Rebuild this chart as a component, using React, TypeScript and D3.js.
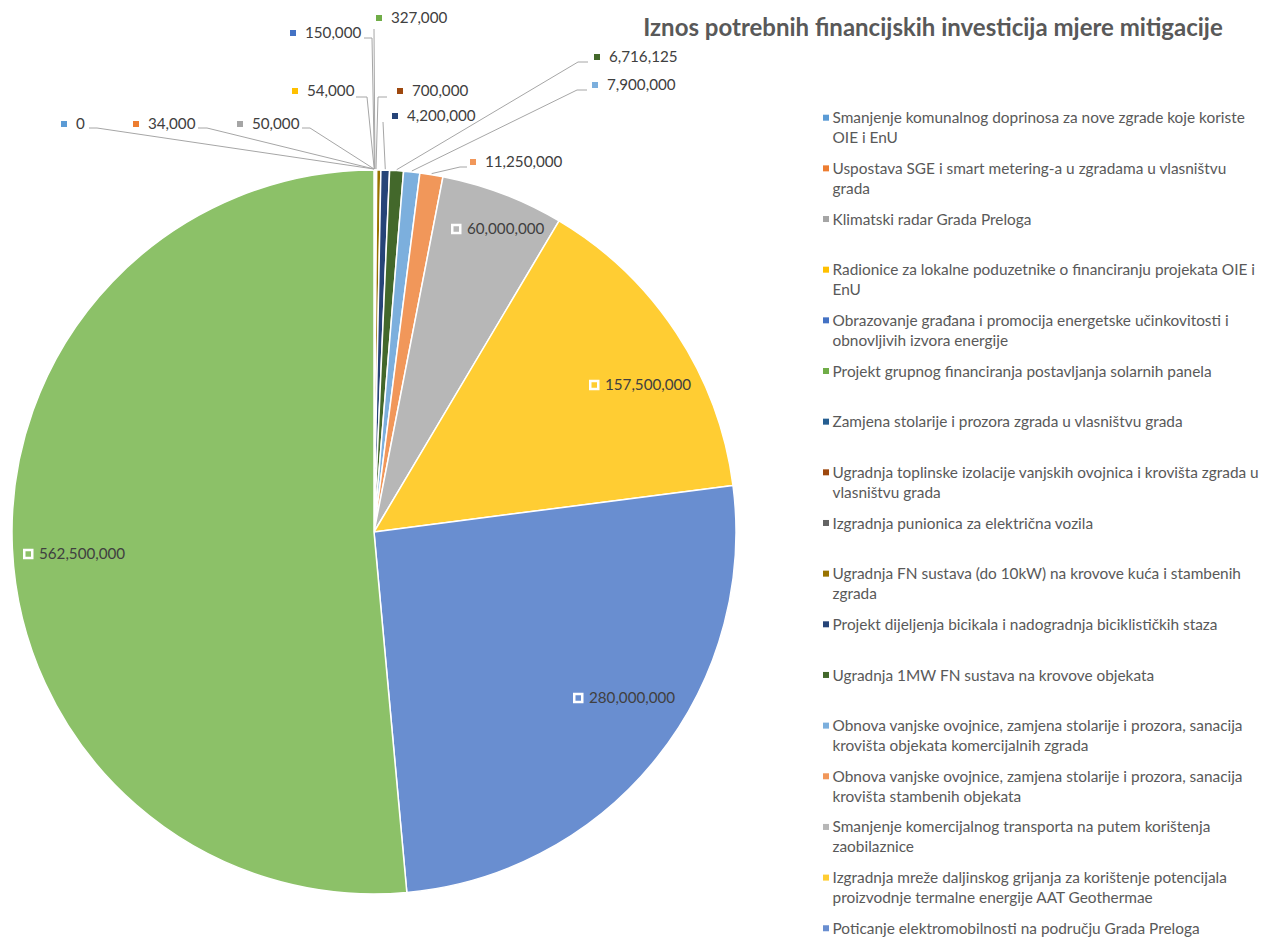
import React from 'react';
import * as d3 from 'd3';

const title = 'Iznos potrebnih financijskih investicija mjere mitigacije';

const categories = [
  'Smanjenje komunalnog doprinosa za nove zgrade koje koriste OIE i EnU',
  'Uspostava SGE i smart metering-a u zgradama u vlasništvu grada',
  'Klimatski radar Grada Preloga',
  'Radionice za lokalne poduzetnike o financiranju projekata OIE i EnU',
  'Obrazovanje građana i promocija energetske učinkovitosti i obnovljivih izvora energije',
  'Projekt grupnog financiranja postavljanja solarnih panela',
  'Zamjena stolarije i prozora zgrada u vlasništvu grada',
  'Ugradnja toplinske izolacije vanjskih ovojnica i krovišta zgrada u vlasništvu grada',
  'Izgradnja punionica za električna vozila',
  'Ugradnja FN sustava (do 10kW) na krovove kuća i stambenih zgrada',
  'Projekt dijeljenja bicikala i nadogradnja biciklističkih staza',
  'Ugradnja 1MW FN sustava na krovove objekata',
  'Obnova vanjske ovojnice, zamjena stolarije i prozora, sanacija krovišta objekata komercijalnih zgrada',
  'Obnova vanjske ovojnice, zamjena stolarije i prozora, sanacija krovišta stambenih objekata',
  'Smanjenje komercijalnog transporta na putem korištenja zaobilaznice',
  'Izgradnja mreže daljinskog grijanja za korištenje potencijala proizvodnje termalne energije AAT Geothermae',
  'Poticanje elektromobilnosti na području Grada Preloga',
  'Projekt energetske obnove i razvoja Grada Preloga',
];

// investment amounts (null = no value shown)
const values: (number | null)[] = [
  0, 34000, 50000, 54000, 150000, 327000, null, 700000, null, 2000000,
  4200000, 6716125, 7900000, 11250000, 60000000, 157500000, 280000000, 562500000,
];

// labels that appear on the chart
const labelled = [
  true, true, true, true, true, true, false, true, false, false,
  true, true, true, true, true, true, true, true,
];

const colors = [
  '#5B9BD5', '#ED7D31', '#A5A5A5', '#FFC000', '#4472C4', '#70AD47',
  '#255E91', '#9E480E', '#636363', '#997300', '#264478', '#43682B',
  '#7CAFDD', '#F1975A', '#B7B7B7', '#FFCD33', '#698ED0', '#8CC168',
];

// ---- layout (not data) ----
const W = 1262;
const H = 938;
const CX = 374;
const CY = 532;
const R = 362;
const LABEL_FONT = 15.2;
const LEGEND_FONT = 15.4;
const TITLE_FONT = 24;
const FONT = 'Lato, "Open Sans", sans-serif';

// label anchor layout: marker left x, text centre y, leader start + elbow
type Lay = { x: number; y: number; inside?: boolean; leader?: [number, number, number, number] };
const labelLayout: Record<number, Lay> = {
  0: { x: 61, y: 124, leader: [89, 128, 97, 128] },
  1: { x: 133, y: 124, leader: [198, 128, 207, 128] },
  2: { x: 237, y: 124, leader: [302, 128, 310, 128] },
  3: { x: 292, y: 91, leader: [356, 97, 367, 97] },
  4: { x: 290, y: 33, leader: [364, 38, 372, 38] },
  5: { x: 376, y: 18, leader: [374, 29, 374, 29] },
  7: { x: 397, y: 91, leader: [387, 97, 378, 97] },
  10: { x: 392, y: 116, leader: [383, 122, 383, 122] },
  11: { x: 594, y: 57, leader: [588, 62, 578, 62] },
  12: { x: 592, y: 85, leader: [587, 90, 577, 90] },
  13: { x: 470, y: 162, leader: [467, 167, 460, 167] },
  14: { x: 451, y: 229, inside: true },
  15: { x: 589, y: 385, inside: true },
  16: { x: 573, y: 698, inside: true },
  17: { x: 23, y: 554, inside: true },
};

const fmt = d3.format(',');

let ctx: CanvasRenderingContext2D | null = null;
function measure(text: string, size: number, weight = 'normal') {
  if (!ctx) ctx = document.createElement('canvas').getContext('2d');
  if (!ctx) return text.length * size * 0.5;
  ctx.font = `${weight} ${size}px Lato`;
  return ctx.measureText(text).width;
}

function wrap(text: string, maxW: number, size: number) {
  const words = text.split(' ');
  const lines: string[] = [];
  let cur = '';
  for (const w of words) {
    const t = cur ? cur + ' ' + w : w;
    if (cur && measure(t, size) > maxW) {
      lines.push(cur);
      cur = w;
    } else cur = t;
  }
  if (cur) lines.push(cur);
  return lines;
}

export default function App() {
  const data = values.map((v, i) => ({ i, v: v ?? 0 }));
  const pie = d3
    .pie<{ i: number; v: number }>()
    .sort(null)
    .value((d) => d.v)
    .startAngle(0)
    .endAngle(2 * Math.PI);
  const arcs = pie(data);
  const arcGen = d3.arc<d3.PieArcDatum<{ i: number; v: number }>>().innerRadius(0).outerRadius(R);

  const legendX = 823;
  const legendY0 = 117.7;
  const legendStep = 50.66;

  return (
    <svg
      width={W}
      height={H}
      style={{ position: 'absolute', left: 0, top: 0, background: '#fff' }}
      fontFamily={FONT}
    >
      <rect width={W} height={H} fill="#fff" />
      <g transform={`translate(${CX},${CY})`}>
        {arcs.map((a) => (
          <path key={a.data.i} d={arcGen(a) || ''} fill={colors[a.data.i]} stroke="#fff" strokeWidth={1.5} strokeLinejoin="round" />
        ))}
      </g>
      {/* leader lines */}
      {arcs.map((a) => {
        const lay = labelLayout[a.data.i];
        if (!lay || lay.inside || !lay.leader || !labelled[a.data.i]) return null;
        const mid = (a.startAngle + a.endAngle) / 2;
        const ex = CX + (R + 1) * Math.sin(mid);
        const ey = CY - (R + 1) * Math.cos(mid);
        const [sx, sy, kx, ky] = lay.leader;
        return (
          <polyline
            key={'l' + a.data.i}
            points={`${sx},${sy} ${kx},${ky} ${ex},${ey}`}
            fill="none"
            stroke="#A6A6A6"
            strokeWidth={1}
          />
        );
      })}
      {/* data labels */}
      {arcs.map((a) => {
        const i = a.data.i;
        const lay = labelLayout[i];
        if (!lay || !labelled[i]) return null;
        const txt = fmt(values[i] ?? 0);
        if (lay.inside) {
          return (
            <g key={'t' + i}>
              <rect x={lay.x + 1.25} y={lay.y - 4} width={8} height={8} fill={colors[i]} stroke="#fff" strokeWidth={2.5} />
              <text x={lay.x + 16} y={lay.y} dy="0.36em" fontSize={LABEL_FONT} fill="#404040">
                {txt}
              </text>
            </g>
          );
        }
        return (
          <g key={'t' + i}>
            <rect x={lay.x} y={lay.y - 3} width={6} height={6} fill={colors[i]} />
            <text x={lay.x + 15} y={lay.y} dy="0.36em" fontSize={LABEL_FONT} fill="#404040">
              {txt}
            </text>
          </g>
        );
      })}
      {/* title */}
      <text x={933} y={27} dy="0.36em" textAnchor="middle" fontSize={TITLE_FONT} fontWeight="bold" fill="#595959">
        {title}
      </text>
      {/* legend */}
      {categories.map((c, i) => {
        const y = legendY0 + i * legendStep;
        const lines = wrap(c, 430, LEGEND_FONT);
        return (
          <g key={'g' + i}>
            <rect x={legendX} y={y - 3} width={6} height={6} fill={colors[i]} />
            {lines.map((ln, k) => (
              <text key={k} x={legendX + 9.5} y={y + k * 20} dy="0.36em" fontSize={LEGEND_FONT} fill="#595959">
                {ln}
              </text>
            ))}
          </g>
        );
      })}
    </svg>
  );
}
